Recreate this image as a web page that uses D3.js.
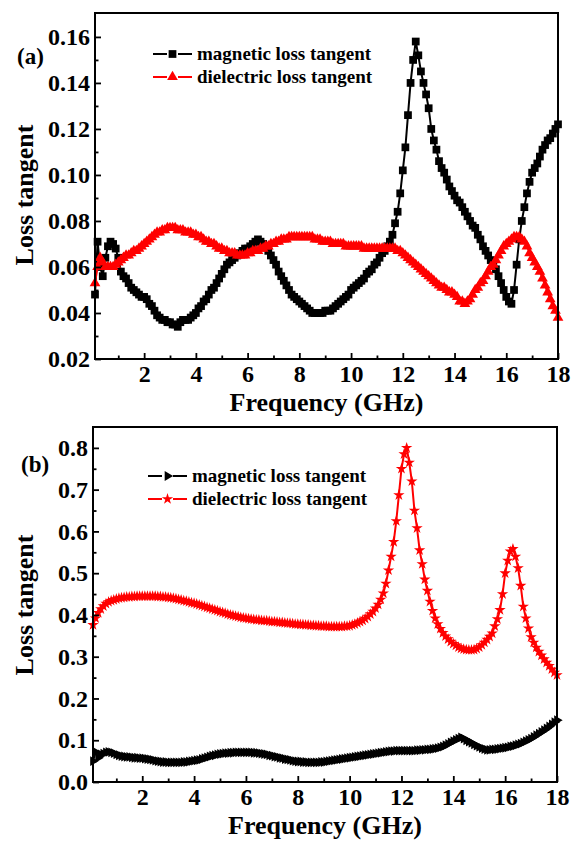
<!DOCTYPE html>
<html lang="en">
<head>
    <meta charset="UTF-8">
    <title>Loss tangent</title>
    <script src="https://cdn.jsdelivr.net/npm/d3@7"></script>
    <style>
        body { margin: 0; background: #fff; }
        svg text { font-family: "Liberation Serif", "Times New Roman", serif; font-weight: bold; fill: #000; }
    </style>
</head>
<body>
<svg width="576" height="841"></svg>
<script>
    // frequency grid (GHz), 0.1 .. 18.0
    var freq = d3.range(1, 181).map(function (i) { return +(i * 0.1).toFixed(1); });

    // (a) values, 10 per row (0.1-1.0, 1.1-2.0, ...)
    var magA = [
        0.048, 0.071, 0.060, 0.056, 0.064, 0.069, 0.071, 0.070, 0.068, 0.064,
        0.058, 0.056, 0.055, 0.053, 0.051, 0.050, 0.049, 0.048, 0.047, 0.047,
        0.046, 0.044, 0.043, 0.041, 0.039, 0.038, 0.037, 0.037, 0.036, 0.036,
        0.035, 0.035, 0.034, 0.036, 0.037, 0.037, 0.037, 0.038, 0.039, 0.040,
        0.042, 0.043, 0.045, 0.046, 0.048, 0.050, 0.051, 0.053, 0.055, 0.057,
        0.059, 0.061, 0.062, 0.063, 0.064, 0.065, 0.066, 0.067, 0.068, 0.068,
        0.069, 0.070, 0.071, 0.072, 0.071, 0.070, 0.069, 0.067, 0.065, 0.063,
        0.061, 0.058, 0.056, 0.054, 0.052, 0.050, 0.048, 0.047, 0.046, 0.045,
        0.044, 0.043, 0.042, 0.041, 0.040, 0.040, 0.040, 0.040, 0.040, 0.041,
        0.041, 0.041, 0.042, 0.043, 0.044, 0.045, 0.046, 0.047, 0.048, 0.050,
        0.051, 0.052, 0.053, 0.054, 0.055, 0.057, 0.058, 0.059, 0.061, 0.062,
        0.064, 0.066, 0.067, 0.069, 0.071, 0.074, 0.079, 0.084, 0.092, 0.102,
        0.112, 0.126, 0.140, 0.150, 0.158, 0.152, 0.145, 0.140, 0.135, 0.129,
        0.120, 0.115, 0.111, 0.106, 0.103, 0.101, 0.098, 0.095, 0.093, 0.091,
        0.089, 0.088, 0.086, 0.084, 0.082, 0.080, 0.078, 0.077, 0.074, 0.072,
        0.069, 0.067, 0.065, 0.063, 0.061, 0.059, 0.056, 0.053, 0.050, 0.047,
        0.045, 0.044, 0.050, 0.061, 0.072, 0.080, 0.086, 0.092, 0.097, 0.101,
        0.103, 0.105, 0.108, 0.111, 0.113, 0.115, 0.116, 0.118, 0.120, 0.122
    ];
    var dielA = [
        0.053, 0.060, 0.064, 0.062, 0.060, 0.060, 0.060, 0.060, 0.061, 0.062,
        0.063, 0.064, 0.065, 0.065, 0.066, 0.067, 0.067, 0.068, 0.069, 0.070,
        0.071, 0.072, 0.073, 0.074, 0.075, 0.075, 0.076, 0.076, 0.077, 0.077,
        0.077, 0.077, 0.076, 0.076, 0.076, 0.075, 0.075, 0.075, 0.074, 0.074,
        0.073, 0.073, 0.072, 0.071, 0.071, 0.070, 0.070, 0.069, 0.068, 0.068,
        0.067, 0.067, 0.066, 0.066, 0.066, 0.065, 0.065, 0.065, 0.065, 0.066,
        0.066, 0.067, 0.067, 0.067, 0.068, 0.068, 0.069, 0.069, 0.070, 0.070,
        0.071, 0.071, 0.072, 0.072, 0.072, 0.073, 0.073, 0.073, 0.073, 0.073,
        0.073, 0.073, 0.073, 0.073, 0.073, 0.072, 0.072, 0.072, 0.071, 0.071,
        0.071, 0.071, 0.070, 0.070, 0.070, 0.070, 0.070, 0.069, 0.069, 0.069,
        0.069, 0.069, 0.069, 0.069, 0.068, 0.068, 0.068, 0.068, 0.068, 0.068,
        0.068, 0.068, 0.068, 0.068, 0.068, 0.068, 0.068, 0.067, 0.067, 0.066,
        0.065, 0.064, 0.063, 0.062, 0.061, 0.060, 0.059, 0.058, 0.057, 0.056,
        0.055, 0.054, 0.053, 0.052, 0.051, 0.051, 0.050, 0.049, 0.049, 0.048,
        0.047, 0.045, 0.045, 0.044, 0.045, 0.046, 0.048, 0.050, 0.051, 0.053,
        0.054, 0.056, 0.058, 0.060, 0.061, 0.063, 0.065, 0.067, 0.069, 0.070,
        0.071, 0.072, 0.073, 0.073, 0.073, 0.072, 0.071, 0.069, 0.066, 0.064,
        0.062, 0.060, 0.058, 0.055, 0.052, 0.049, 0.046, 0.043, 0.041, 0.038
    ];

    // (b)
    var magB = [
        0.050, 0.072, 0.058, 0.066, 0.068, 0.071, 0.072, 0.071, 0.069, 0.066,
        0.064, 0.062, 0.061, 0.060, 0.060, 0.059, 0.058, 0.058, 0.057, 0.057,
        0.056, 0.055, 0.054, 0.053, 0.051, 0.050, 0.049, 0.048, 0.048, 0.047,
        0.047, 0.047, 0.047, 0.047, 0.047, 0.048, 0.048, 0.049, 0.050, 0.051,
        0.052, 0.053, 0.055, 0.057, 0.059, 0.061, 0.063, 0.064, 0.066, 0.067,
        0.068, 0.069, 0.069, 0.070, 0.070, 0.071, 0.071, 0.071, 0.071, 0.071,
        0.071, 0.071, 0.070, 0.070, 0.069, 0.068, 0.067, 0.066, 0.064, 0.063,
        0.061, 0.060, 0.058, 0.057, 0.055, 0.054, 0.053, 0.051, 0.050, 0.049,
        0.049, 0.048, 0.048, 0.047, 0.047, 0.047, 0.047, 0.047, 0.048, 0.048,
        0.049, 0.050, 0.051, 0.052, 0.053, 0.054, 0.055, 0.056, 0.057, 0.058,
        0.059, 0.060, 0.061, 0.062, 0.063, 0.064, 0.065, 0.066, 0.067, 0.068,
        0.069, 0.070, 0.071, 0.072, 0.073, 0.074, 0.074, 0.075, 0.075, 0.075,
        0.075, 0.075, 0.075, 0.075, 0.075, 0.076, 0.076, 0.077, 0.077, 0.078,
        0.078, 0.079, 0.080, 0.081, 0.083, 0.085, 0.088, 0.091, 0.095, 0.098,
        0.101, 0.104, 0.107, 0.104, 0.100, 0.097, 0.094, 0.090, 0.087, 0.084,
        0.081, 0.079, 0.077, 0.077, 0.078, 0.078, 0.079, 0.080, 0.081, 0.082,
        0.083, 0.085, 0.086, 0.088, 0.090, 0.092, 0.095, 0.098, 0.101, 0.104,
        0.108, 0.112, 0.116, 0.120, 0.124, 0.128, 0.133, 0.138, 0.143, 0.148
    ];
    var dielB = [
        0.376, 0.392, 0.405, 0.414, 0.421, 0.427, 0.431, 0.434, 0.436, 0.438,
        0.440, 0.441, 0.442, 0.443, 0.443, 0.444, 0.444, 0.445, 0.445, 0.445,
        0.445, 0.445, 0.445, 0.445, 0.445, 0.444, 0.444, 0.443, 0.443, 0.442,
        0.441, 0.440, 0.439, 0.437, 0.436, 0.434, 0.433, 0.431, 0.429, 0.428,
        0.426, 0.424, 0.422, 0.420, 0.418, 0.416, 0.414, 0.412, 0.410, 0.408,
        0.406, 0.404, 0.402, 0.400, 0.399, 0.397, 0.396, 0.394, 0.393, 0.392,
        0.391, 0.390, 0.389, 0.388, 0.388, 0.387, 0.386, 0.386, 0.385, 0.384,
        0.384, 0.383, 0.382, 0.382, 0.381, 0.380, 0.380, 0.379, 0.378, 0.378,
        0.377, 0.377, 0.376, 0.376, 0.375, 0.375, 0.374, 0.374, 0.373, 0.373,
        0.373, 0.372, 0.372, 0.372, 0.372, 0.372, 0.372, 0.373, 0.373, 0.374,
        0.376, 0.378, 0.381, 0.384, 0.387, 0.391, 0.396, 0.402, 0.408, 0.416,
        0.425, 0.437, 0.452, 0.475, 0.507, 0.540, 0.575, 0.625, 0.687, 0.750,
        0.785, 0.800, 0.765, 0.720, 0.650, 0.608, 0.555, 0.522, 0.485, 0.458,
        0.432, 0.410, 0.392, 0.378, 0.367, 0.357, 0.349, 0.342, 0.336, 0.331,
        0.327, 0.323, 0.320, 0.318, 0.317, 0.316, 0.316, 0.317, 0.319, 0.323,
        0.328, 0.334, 0.341, 0.348, 0.356, 0.373, 0.390, 0.412, 0.450, 0.500,
        0.530, 0.552, 0.558, 0.540, 0.512, 0.470, 0.420, 0.392, 0.368, 0.347,
        0.334, 0.322, 0.312, 0.303, 0.294, 0.286, 0.278, 0.270, 0.262, 0.256
    ];

    var xTicks = [2, 4, 6, 8, 10, 12, 14, 16, 18];
    var xMinor = [1, 3, 5, 7, 9, 11, 13, 15, 17];
    var yTicksA = [0.02, 0.04, 0.06, 0.08, 0.10, 0.12, 0.14, 0.16];
    var yMinorA = [0.03, 0.05, 0.07, 0.09, 0.11, 0.13, 0.15];
    var yTicksB = [0.0, 0.1, 0.2, 0.3, 0.4, 0.5, 0.6, 0.7, 0.8];
    var yMinorB = [0.05, 0.15, 0.25, 0.35, 0.45, 0.55, 0.65, 0.75];
    var legendNames = ["magnetic loss tangent", "dielectric loss tangent"];

    var svg = d3.select("svg");

    var panels = [
        {
            tag: "(a)", left: 95, right: 558, top: 13, bottom: 359,
            yDomain: [0.02, 0.1704], yTicks: yTicksA, yMinor: yMinorA, yFmt: ".2f",
            titleY: 195, tagPos: [17, 64], legPos: [153, 60],
            series: [
                {values: magA, color: "#000", symbol: d3.symbolSquare, size: 60, rotate: 0},
                {values: dielA, color: "#ff0000", symbol: d3.symbolTriangle, size: 50, rotate: 0}
            ]
        },
        {
            tag: "(b)", left: 93, right: 557, top: 427, bottom: 782,
            yDomain: [0, 0.85], yTicks: yTicksB, yMinor: yMinorB, yFmt: ".1f",
            titleY: 605, tagPos: [21, 472], legPos: [148, 482],
            series: [
                {values: magB, color: "#000", symbol: d3.symbolTriangle, size: 42, rotate: 90},
                {values: dielB, color: "#ff0000", symbol: d3.symbolStar, size: 40, rotate: 0}
            ]
        }
    ];

    panels.forEach(function (p) {
        var g = svg.append("g");
        var x = d3.scaleLinear().domain([0.1, 18]).range([p.left, p.right]);
        var y = d3.scaleLinear().domain(p.yDomain).range([p.bottom, p.top]);

        // curves: line + markers
        p.series.forEach(function (s) {
            var pts = freq.map(function (f, i) { return [f, s.values[i]]; });
            g.append("path")
                .datum(pts)
                .attr("fill", "none")
                .attr("stroke", s.color)
                .attr("stroke-width", 2)
                .attr("d", d3.line()
                    .x(function (d) { return x(d[0]); })
                    .y(function (d) { return y(d[1]); }));
            g.append("g").selectAll("path")
                .data(pts)
                .enter()
                .append("path")
                .attr("d", d3.symbol().type(s.symbol).size(s.size))
                .attr("fill", s.color)
                .attr("transform", function (d) {
                    return "translate(" + x(d[0]) + "," + y(d[1]) + ") rotate(" + s.rotate + ")";
                });
        });

        // axes, ticks pointing inwards
        var xAxis = g.append("g")
            .attr("transform", "translate(0," + p.bottom + ")")
            .call(d3.axisBottom(x).tickValues(xTicks).tickSize(-6).tickSizeOuter(0).tickFormat(d3.format("d")));
        xAxis.selectAll("text").attr("y", 23).attr("dy", null).style("font-size", "24px");
        g.append("g")
            .attr("transform", "translate(0," + p.bottom + ")")
            .call(d3.axisBottom(x).tickValues(xMinor).tickSize(-3.5).tickSizeOuter(0).tickFormat(""));

        var yAxis = g.append("g")
            .attr("transform", "translate(" + p.left + ",0)")
            .call(d3.axisLeft(y).tickValues(p.yTicks).tickSize(-6).tickSizeOuter(0)
                .tickPadding(5).tickFormat(d3.format(p.yFmt)));
        yAxis.selectAll("text").style("font-size", "24px");
        g.append("g")
            .attr("transform", "translate(" + p.left + ",0)")
            .call(d3.axisLeft(y).tickValues(p.yMinor).tickSize(-3.5).tickSizeOuter(0).tickFormat(""));

        g.selectAll(".domain").remove();
        g.selectAll(".tick line").attr("stroke", "#000").attr("stroke-width", 1.8);

        // frame
        g.append("rect")
            .attr("x", p.left)
            .attr("y", p.top)
            .attr("width", p.right - p.left)
            .attr("height", p.bottom - p.top)
            .attr("fill", "none")
            .attr("stroke", "#000")
            .attr("stroke-width", 2);

        // titles
        g.append("text")
            .attr("x", (p.left + p.right) / 2)
            .attr("y", p.bottom + 52)
            .attr("text-anchor", "middle")
            .style("font-size", "26px")
            .text("Frequency (GHz)");
        g.append("text")
            .attr("transform", "translate(33," + p.titleY + ") rotate(-90)")
            .attr("text-anchor", "middle")
            .style("font-size", "26px")
            .text("Loss tangent");
        g.append("text")
            .attr("x", p.tagPos[0])
            .attr("y", p.tagPos[1])
            .style("font-size", "23px")
            .text(p.tag);

        // legend
        p.series.forEach(function (s, i) {
            var lx = p.legPos[0], ly = p.legPos[1] + i * 23 - 6;
            g.append("line")
                .attr("x1", lx).attr("x2", lx + 14)
                .attr("y1", ly).attr("y2", ly)
                .attr("stroke", s.color).attr("stroke-width", 2);
            g.append("line")
                .attr("x1", lx + 25).attr("x2", lx + 39)
                .attr("y1", ly).attr("y2", ly)
                .attr("stroke", s.color).attr("stroke-width", 2);
            g.append("path")
                .attr("d", d3.symbol().type(s.symbol).size(s.size))
                .attr("fill", s.color)
                .attr("transform", "translate(" + (lx + 19.5) + "," + ly + ") rotate(" + s.rotate + ")");
            g.append("text")
                .attr("x", lx + 44)
                .attr("y", p.legPos[1] + i * 23)
                .style("font-size", "19px")
                .text(legendNames[i]);
        });
    });
</script>
</body>
</html>
